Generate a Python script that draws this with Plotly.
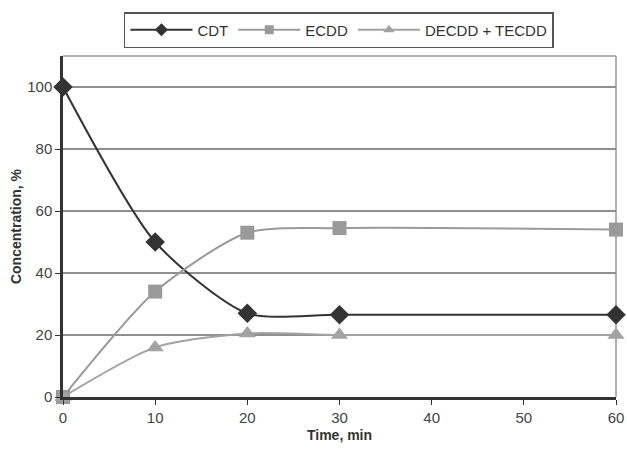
import plotly.graph_objects as go

time_min = [0, 10, 20, 30, 60]
cdt = [100, 50, 27, 26.5, 26.5]
ecdd = [0, 34, 53, 54.5, 54]
decdd_tecdd = [0, 16, 20.5, 20, 20]
x_ticks = [0, 10, 20, 30, 40, 50, 60]
y_ticks = [0, 20, 40, 60, 80, 100]

series = [
    ("CDT", cdt, "#333333", "diamond", 15, 10),
    ("ECDD", ecdd, "#9a9a9a", "square", 14, 9),
    ("DECDD + TECDD", decdd_tecdd, "#a3a3a3", "triangle-up", 15, 10),
]

fig = go.Figure()
for name, vals, color, sym, size, lsize in series:
    fig.add_trace(go.Scatter(x=time_min, y=vals, name=name, mode="lines+markers",
                             line=dict(color=color, width=2, shape="spline", smoothing=0.7),
                             marker=dict(symbol=sym, size=size, color=color),
                             cliponaxis=False, showlegend=False))
for name, vals, color, sym, size, lsize in series:
    # legend entry with smaller marker, as in the reference legend
    fig.add_trace(go.Scatter(x=[None], y=[None], name=name, mode="lines+markers",
                             line=dict(color=color, width=2),
                             marker=dict(symbol=sym, size=lsize, color=color)))

fig.update_layout(
    width=627, height=453,
    margin=dict(l=63, r=11, t=56, b=56, autoexpand=False),
    plot_bgcolor="white", paper_bgcolor="white",
    font=dict(family="Liberation Sans, Arial, sans-serif", size=14, color="#333333"),
    showlegend=True,
    legend=dict(orientation="h", x=0.499, xanchor="center", y=1.129, yanchor="top",
                bordercolor="#555555", borderwidth=1.5, font=dict(size=15, color="#333333"),
                itemwidth=62, tracegroupgap=0),
)
fig.update_xaxes(range=[0, 60], tickvals=x_ticks, showgrid=False, showline=True,
                 linecolor="#333333", linewidth=2.5, ticks="outside", ticklen=5,
                 tickcolor="#333333", mirror=False, zeroline=False, automargin=False,
                 title=dict(text="<b>Time, min</b>", standoff=6, font=dict(size=14)),
                 tickfont=dict(size=15, color="#444444"))
fig.update_yaxes(range=[0, 110], tickvals=y_ticks, showgrid=True, gridcolor="#8f8f8f",
                 gridwidth=1.5, showline=True, linecolor="#333333", linewidth=2.5,
                 ticks="outside", ticklen=5, tickcolor="#333333", zeroline=False,
                 automargin=False,
                 title=dict(text="<b>Concentration, %</b>", standoff=3, font=dict(size=14)),
                 tickfont=dict(size=15, color="#444444"))
# right and top border of plot area
fig.add_shape(type="line", xref="paper", yref="paper", x0=1, x1=1, y0=0, y1=1,
              line=dict(color="#999999", width=1.5), layer="below")
fig.add_shape(type="line", xref="paper", yref="paper", x0=0, x1=1, y0=1, y1=1,
              line=dict(color="#999999", width=1.5), layer="below")

fig.write_html("out.html", config={"displayModeBar": False},
               post_script="document.body.style.margin='0';document.body.style.overflow='hidden';")
